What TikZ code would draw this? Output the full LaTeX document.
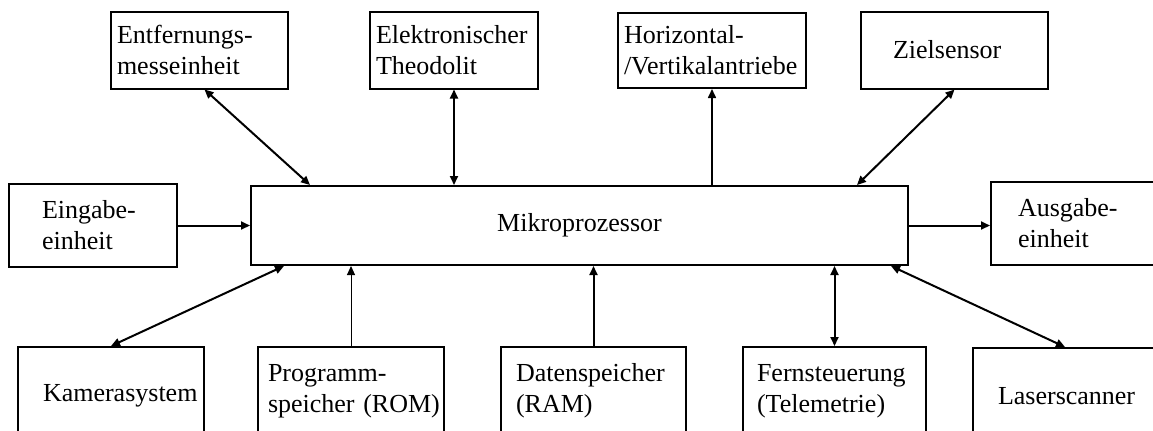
\documentclass[tikz,border=0pt]{standalone}
\usepackage{fontspec}
\setmainfont{Liberation Serif}
\usetikzlibrary{arrows.meta}

\begin{document}
\begin{tikzpicture}[x=0.5pt, y=-0.5pt,
    every node/.style={font=\fontsize{13pt}{15.5pt}\selectfont},
    box/.style={draw, line width=1pt, align=left, inner ysep=0pt},
    pfeil/.style={line width=1pt, -{Triangle[length=4.5pt,width=4pt]}},
    doppel/.style={line width=1pt, {Triangle[length=4.5pt,width=4pt]}-{Triangle[length=4.5pt,width=4pt]}}]
    \useasboundingbox (0,0) rectangle (1153,430);
    \clip (0,0) rectangle (1153,430);

    % Obere Reihe
    \node[box, minimum height=38.5pt, text width=82.5pt, inner xsep=3pt] (entf) at (199.5,50) {Entfernungs-\\messeinheit};
    \node[box, minimum height=38.5pt, text width=78pt, inner xsep=3pt] (theo) at (454,50) {Elektronischer\\Theodolit};
    \node[box, minimum height=37.5pt, text width=88pt, inner xsep=3pt] (hori) at (712,50.5) {Horizontal-\\/Vertikalantriebe};
    \node[box, minimum height=38.5pt, text width=61.5pt, inner xsep=16pt] (ziel) at (954.5,50) {Zielsensor};

    % Mitte
    \node[box, minimum height=41.5pt, text width=51pt, inner xsep=16.5pt] (ein) at (93,225.5) {Eingabe-\\einheit};
    \node[box, align=center, minimum width=328.5pt, minimum height=39.5pt] (micro) at (579.5,225.5) {Mikroprozessor};
    \node[box, minimum height=41.5pt, text width=73pt, inner xsep=13.5pt] (aus) at (1091,223.5) {Ausgabe-\\einheit};

    % Untere Reihe
    \node[box, minimum height=49pt, text width=68pt, inner xsep=12.5pt] (kam) at (111,396) {Kamerasystem};
    \node[box, minimum height=44pt, text width=83pt, inner xsep=5pt] (prog) at (351,391) {Programm-\\\mbox{speicher (ROM)}};
    \node[box, minimum height=44pt, text width=77.5pt, inner xsep=7.5pt] (daten) at (593.5,391) {Datenspeicher\\(RAM)};
    \node[box, minimum height=44pt, text width=77.5pt, inner xsep=7pt] (fern) at (834.5,391) {Fernsteuerung\\(Telemetrie)};
    \node[box, minimum height=48pt, text width=75pt, inner xsep=12.5pt] (laser) at (1073,396) {Laserscanner};

    % Verbindungen
    \draw[doppel] ([xshift=2.5pt]entf.south) -- ([xshift=30pt]micro.north west);
    \draw[doppel] (theo.south) -- (theo.south |- micro.north);
    \draw[pfeil, line width=0.8pt] (hori.south |- micro.north) -- (hori.south);
    \draw[doppel] (ziel.south) -- ([xshift=-26pt]micro.north east);
    \draw[pfeil] (ein.east) -- (ein.east -| micro.west);
    \draw[pfeil] (micro.east) -- (micro.east -| aus.west);
    \draw[doppel] (kam.north) -- ([xshift=17pt]micro.south west);
    \draw[pfeil, line width=0.5pt] (prog.north) -- (prog.north |- micro.south);
    \draw[pfeil] (daten.north) -- (daten.north |- micro.south);
    \draw[doppel] (fern.north) -- (fern.north |- micro.south);
    \draw[doppel] ([xshift=-4pt]laser.north) -- ([xshift=-9pt]micro.south east);
  \end{tikzpicture}
\end{document}
